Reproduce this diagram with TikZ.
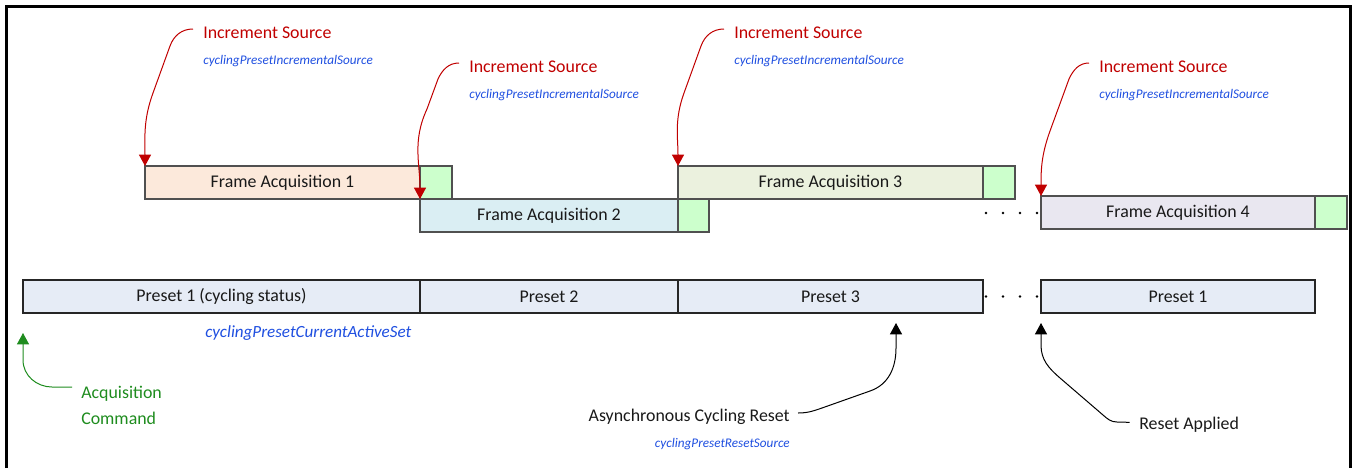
\documentclass[tikz,border=0pt]{standalone}
\usepackage{fontspec}
\setmainfont{Carlito}
\usetikzlibrary{arrows.meta}
\definecolor{redc}{HTML}{C00000}
\definecolor{bluec}{HTML}{1F4FE0}
\definecolor{greenc}{HTML}{1E8C1E}
\definecolor{boxline}{HTML}{505050}
\definecolor{faone}{HTML}{FCE9DB}
\definecolor{fatwo}{HTML}{DAEEF3}
\definecolor{fathree}{HTML}{EBF1DE}
\definecolor{fafour}{HTML}{E9E7F0}
\definecolor{endgreen}{HTML}{CCFFCC}
\definecolor{presetfill}{HTML}{E6ECF6}
\newcommand\mainsz{\fontsize{13.4}{16}\selectfont}
\newcommand\smallsz{\fontsize{9.9}{12}\selectfont}
\newcommand\midsz{\fontsize{12.8}{15}\selectfont}
\begin{document}
\begin{tikzpicture}[x=0.75pt,y=-0.75pt,
  box/.style={draw=boxline, line width=0.9pt, inner sep=0pt, outer sep=0pt, anchor=north west, minimum height=24.75pt, font=\mainsz, text=black!90},
  pbox/.style={box, draw=black!85, fill=presetfill},
  gbox/.style={box, fill=endgreen},
  redlbl/.style={inner sep=0pt, anchor=west, text=redc, font=\mainsz},
  bluelbl/.style={inner sep=0pt, text=bluec, font=\smallsz\itshape},
  blacklbl/.style={inner sep=0pt, text=black!90, font=\mainsz},
  tip/.style={-{Triangle[width=9pt,length=8.5pt]}},
  redarr/.style={tip, draw=redc, line width=0.75pt},
  blackarr/.style={tip, draw=black, line width=0.75pt},
  greenarr/.style={tip, draw=greenc, line width=0.75pt},
  dot/.style={circle, fill=black, inner sep=0pt, minimum size=2.2pt}
]
\useasboundingbox (0,0) rectangle (1352,468);
% frame
\draw[line width=1.8pt] (6.5,468) -- (6.5,6.5) -- (1350.5,6.5) -- (1350.5,468);

% frame acquisitions
\node[box, fill=faone, minimum width=206.25pt] (fa1) at (145,166) {Frame Acquisition 1};
\node[gbox, minimum width=24pt] (g1) at (420,166) {};
\node[box, fill=fatwo, minimum width=193.5pt] (fa2) at (420,199) {Frame Acquisition 2};
\node[gbox, minimum width=23.25pt] (g2) at (678,199) {};
\node[box, fill=fathree, minimum width=228.75pt] (fa3) at (678,166) {Frame Acquisition 3};
\node[gbox, minimum width=24pt] (g3) at (983,166) {};
\node[box, fill=fafour, minimum width=205.5pt] (fa4) at (1041,196) {Frame Acquisition 4};
\node[gbox, minimum width=24pt] (g4) at (1315,196) {};

% presets
\node[pbox, minimum width=297.75pt] (p1) at (23,280) {Preset 1 (cycling status)};
\node[pbox, minimum width=193.5pt] (p2) at (420,280) {Preset 2};
\node[pbox, minimum width=228.75pt] (p3) at (678,280) {Preset 3};
\node[pbox, minimum width=205.5pt] (p4) at (1041,280) {Preset 1};

% dots
\foreach \i/\x in {1/986,2/1003,3/1020,4/1037}{
  \node[dot] (da\i) at (\x,213) {};
  \node[dot] (db\i) at (\x,296.5) {};
}

% increment source labels
\node[redlbl] (is1) at (203,33) {Increment Source};
\node[bluelbl, anchor=west] (cs1) at (203,61) {cyclingPresetIncrementalSource};
\node[redlbl] (is2) at (469,67) {Increment Source};
\node[bluelbl, anchor=west] (cs2) at (469,95) {cyclingPresetIncrementalSource};
\node[redlbl] (is3) at (734,33) {Increment Source};
\node[bluelbl, anchor=west] (cs3) at (734,61) {cyclingPresetIncrementalSource};
\node[redlbl] (is4) at (1099,67) {Increment Source};
\node[bluelbl, anchor=west] (cs4) at (1099,95) {cyclingPresetIncrementalSource};

% red arrows
\draw[redarr] ([xshift=-7.5pt,yshift=3pt]is1.west) to[out=180,in=70] ++(-23,17) -- ++(-17,47) to[out=250,in=90] (fa1.north west);
\draw[redarr] ([xshift=-7.5pt,yshift=3pt]is2.west) to[out=180,in=65] ++(-21,16) -- ++(-11,30) to[out=245,in=90] (fa2.north west);
\draw[redarr] ([xshift=-7.5pt,yshift=3pt]is3.west) to[out=180,in=70] ++(-23,17) -- ++(-17,47) to[out=250,in=90] (fa3.north west);
\draw[redarr] ([xshift=-7.5pt,yshift=3pt]is4.west) to[out=180,in=65] ++(-20,16) -- ++(-19,52) to[out=250,in=90] (fa4.north west);

% bottom labels
\node[inner sep=0pt, anchor=west, text=bluec, font=\midsz\itshape] (cas) at (205,333) {cyclingPresetCurrentActiveSet};
\node[inner sep=0pt, anchor=base west, align=left, text=greenc, font=\fontsize{13.4}{19.5}\selectfont] (acq) at (81,424) {Acquisition\\Command};
\node[blacklbl, anchor=east] (asr) at (790,417) {Asynchronous Cycling Reset};
\node[bluelbl, anchor=east] (rs) at (790,444) {cyclingPresetResetSource};
\node[blacklbl, anchor=west] (ra) at (1139,425) {Reset Applied};

% green arrow
\coordinate (gt) at (23,333);
\coordinate (gs) at (72,387);
\draw[greenarr] (gs) -- (52,387) to[out=180,in=270] (23,360) -- (gt);

% black arrows
\coordinate (bt1) at (896,323);
\coordinate (bt2) at (1041,323);
\draw[blackarr] ([xshift=6pt,yshift=3pt]asr.east) to[out=0,in=199] (822,408) -- (870,391) to[out=19,in=270] (896,348) -- (bt1);
\draw[blackarr] ([xshift=-7pt,yshift=2pt]ra.west) -- (1117,422) to[out=180,in=319] (1103,415) -- (1060,378) to[out=139,in=270] (1041,345) -- (bt2);
\end{tikzpicture}
\end{document}
